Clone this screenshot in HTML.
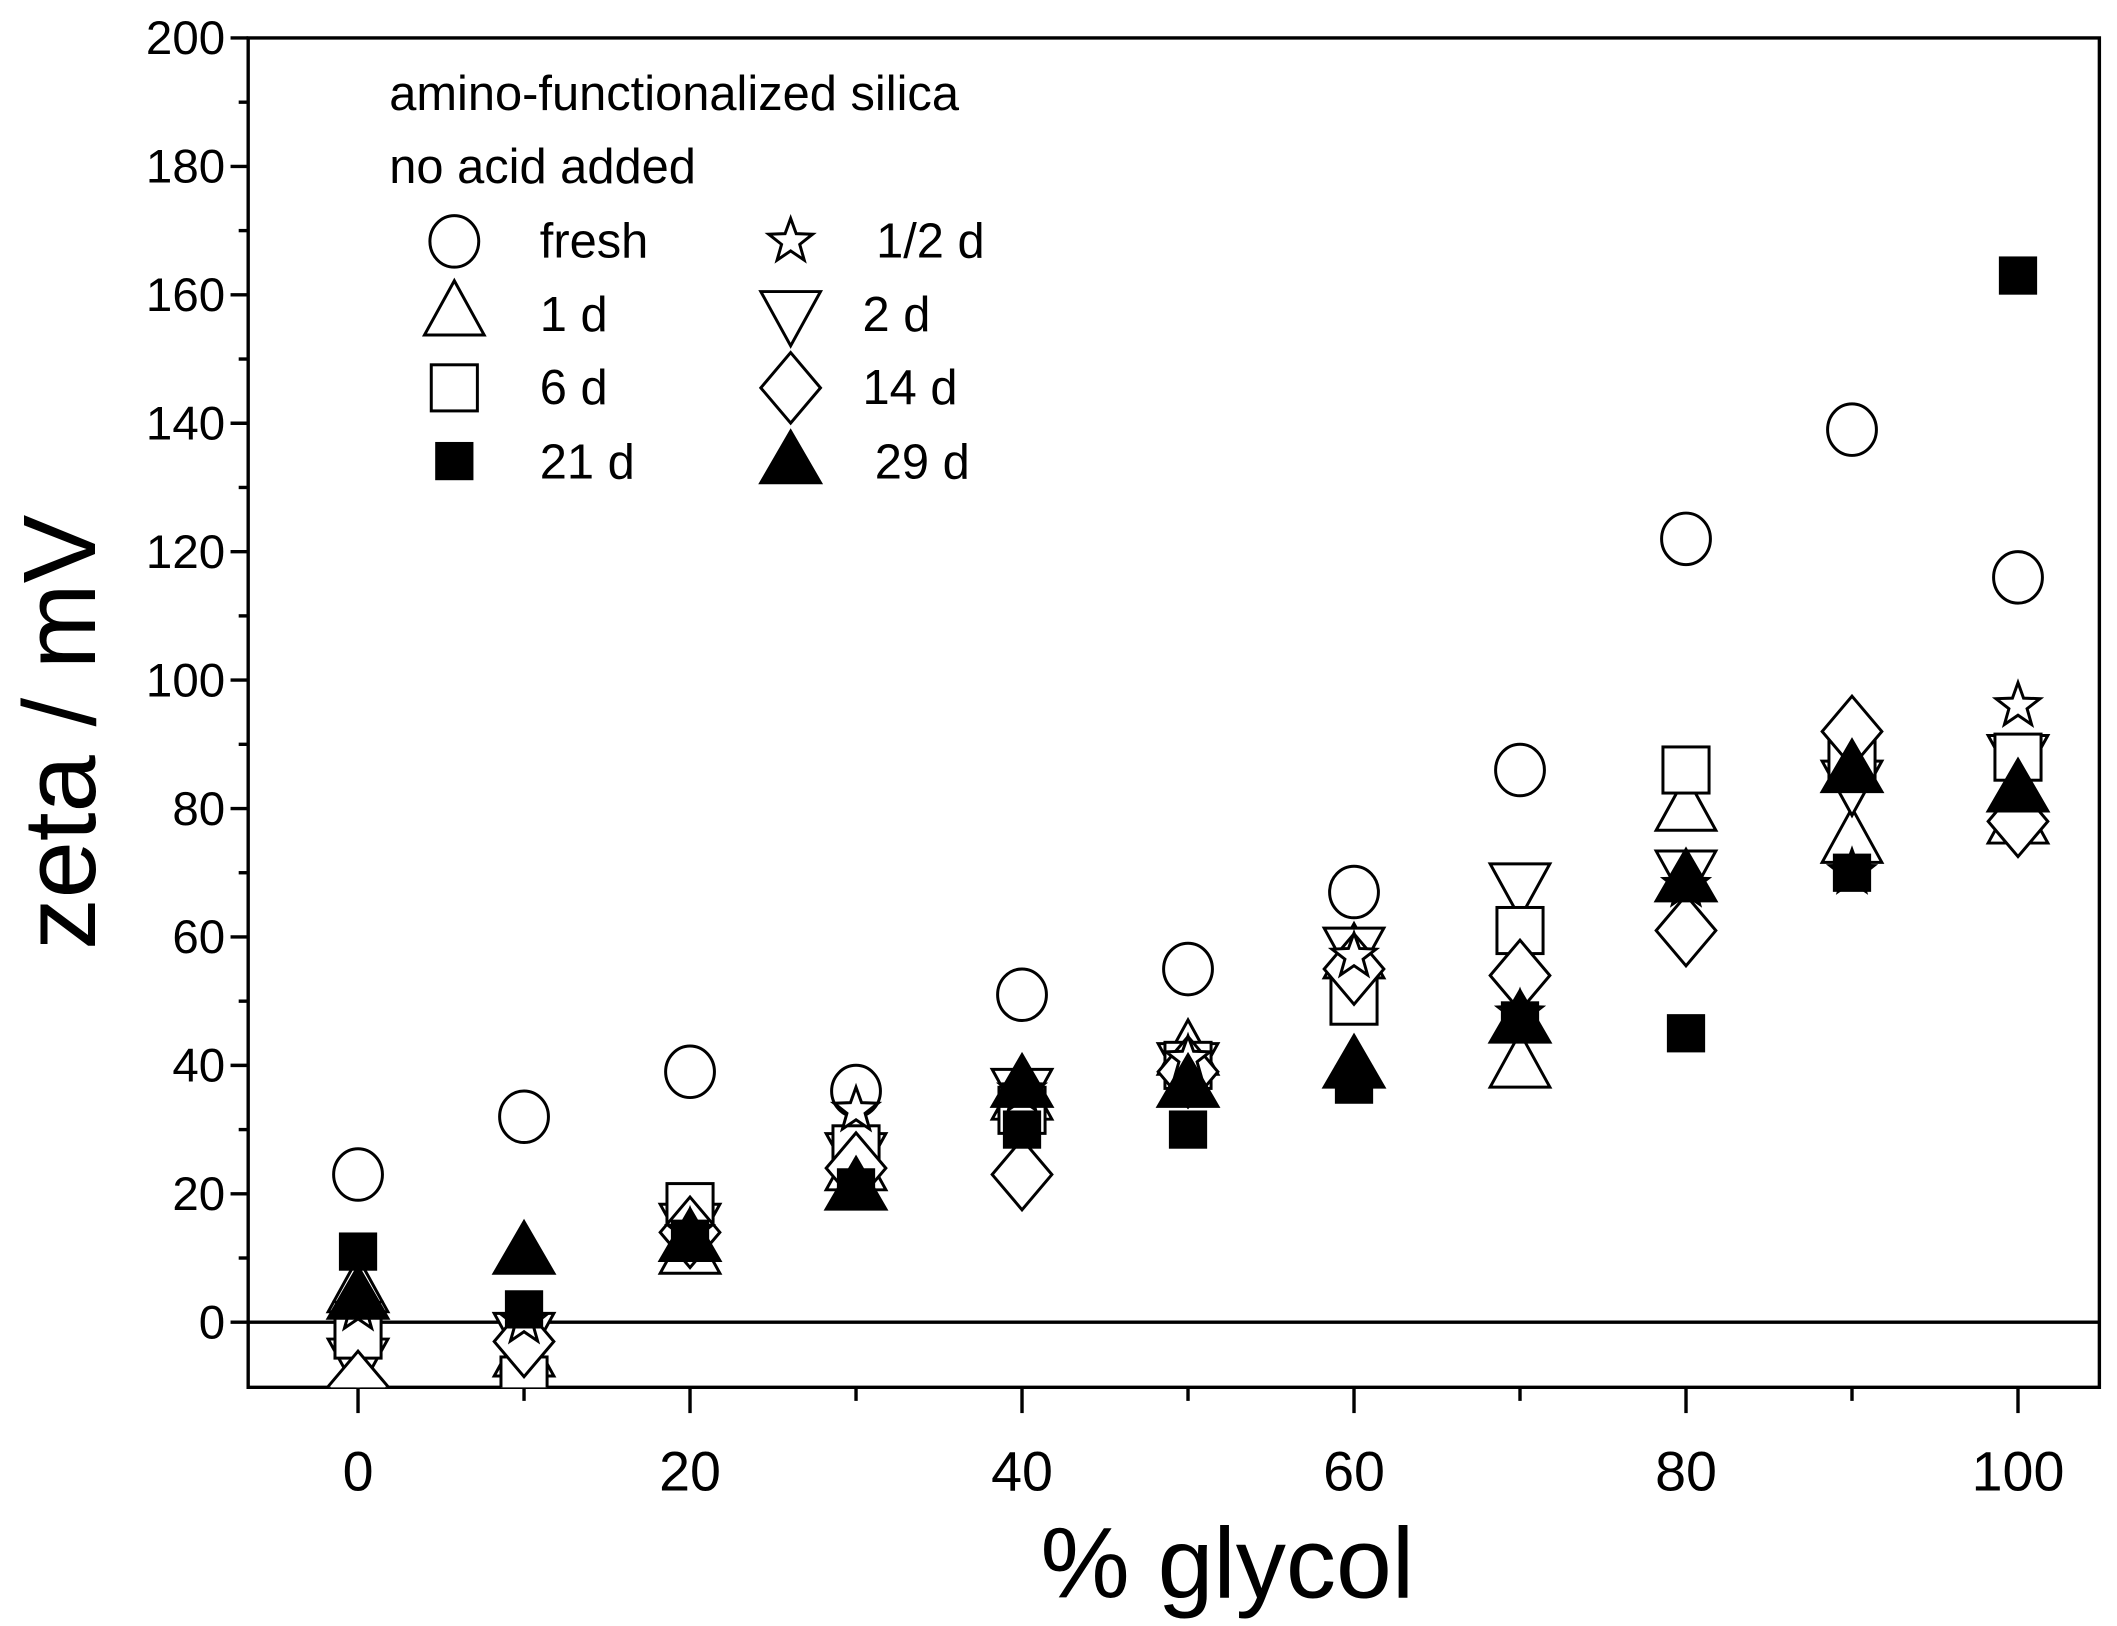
<!DOCTYPE html>
<html><head><meta charset="utf-8"><style>html,body{margin:0;padding:0;background:#fff}svg{display:block}</style></head>
<body>
<svg id="s" width="2117" height="1626" viewBox="0 0 1561 1199" preserveAspectRatio="none" xmlns="http://www.w3.org/2000/svg" font-family="Liberation Sans, sans-serif">
<defs><clipPath id="c"><rect x="183" y="28" width="1365" height="995"/></clipPath></defs>
<rect width="1561" height="1199" fill="#fff"/>
<g id="ax" stroke="#000" stroke-width="2.5" fill="none">
<path d="M183 28H1548V1023H183Z"/>
<line x1="183" y1="975" x2="1548" y2="975"/>
</g>
<g id="ticks" stroke="#000" stroke-width="2.5"></g>
<g id="lab" font-size="35" fill="#000" text-anchor="end"></g>
<g id="xl" font-size="41" fill="#000" text-anchor="middle"></g>
<text transform="translate(70,540) rotate(-90)" font-size="76" text-anchor="middle">zeta / mV</text>
<text x="905" y="1178" font-size="74" text-anchor="middle">% glycol</text>
<g font-size="36" fill="#000">
<text x="287" y="81">amino-functionalized silica</text>
<text x="287" y="135">no acid added</text>
<text x="398" y="190">fresh</text><text x="646" y="190">1/2 d</text>
<text x="398" y="244">1 d</text><text x="636" y="244">2 d</text>
<text x="398" y="298">6 d</text><text x="636" y="298">14 d</text>
<text x="398" y="353">21 d</text><text x="645" y="353">29 d</text>
</g>
<g id="leg"></g>
<g id="pts" clip-path="url(#c)"></g>
</svg>
<script>
const NS="http://www.w3.org/2000/svg";
function el(p,t,a){const e=document.createElementNS(NS,t);for(const k in a)e.setAttribute(k,a[k]);p.appendChild(e);return e;}
const tk=document.getElementById('ticks'),lab=document.getElementById('lab'),xl=document.getElementById('xl');
const Y=v=>975-v*4.735, X=v=>264+v*12.24;
for(let v=0;v<=200;v+=10){const y=Y(v);el(tk,'line',{x1:v%20?176:170,y1:y,x2:183,y2:y});
 if(v%20==0){const t=el(lab,'text',{x:166,y:y+12});t.textContent=v;}}
for(let v=0;v<=100;v+=10){const x=X(v);el(tk,'line',{x1:x,y1:1023,x2:x,y2:v%20?1033:1042});
 if(v%20==0){const t=el(xl,'text',{x:x,y:1099});t.textContent=v;}}
function mk(g,type,x,y){
 const st={stroke:'#000','stroke-width':2.2,fill:'#fff'};
 const f=Object.assign({},st,{fill:'#000'});
 switch(type){
 case 'c':el(g,'ellipse',Object.assign({cx:x,cy:y,rx:18,ry:19},st));break;
 case 's':el(g,'rect',Object.assign({x:x-17,y:y-17,width:34,height:34},st));break;
 case 'S':el(g,'rect',Object.assign({x:x-13,y:y-13,width:26,height:26},f));break;
 case 'u':el(g,'path',Object.assign({d:`M${x} ${y-24}L${x+22} ${y+16}L${x-22} ${y+16}Z`},st));break;
 case 'U':el(g,'path',Object.assign({d:`M${x} ${y-22}L${x+22} ${y+16}L${x-22} ${y+16}Z`},f));break;
 case 'd':el(g,'path',Object.assign({d:`M${x} ${y+24}L${x+22} ${y-16}L${x-22} ${y-16}Z`},st));break;
 case 'm':el(g,'path',Object.assign({d:`M${x} ${y-26}L${x+22} ${y}L${x} ${y+26}L${x-22} ${y}Z`},st));break;
 case 'r':{let p='';for(let i=0;i<10;i++){const r=i%2?7:17,a=-Math.PI/2+i*Math.PI/5;p+=(i?'L':'M')+(x+r*Math.cos(a)).toFixed(1)+' '+(y+r*Math.sin(a)).toFixed(1);}
   el(g,'path',Object.assign({d:p+'Z'},st));break;}
 }
}
const leg=document.getElementById('leg');
[['c',335,178],['r',583,178],['u',335,231],['d',583,231],['s',335,286],['m',583,286],['S',335,340],['U',583,340]].forEach(a=>mk(leg,a[0],a[1],a[2]));
const D={
c:[23,32,39,36,51,55,67,86,122,139,116],
r:[2,0,14,33,36,41,57,48,68,70,96],
u:[5,-5,11,24,35,42,57,40,80,75,78],
d:[-6,-2,15,26,36,40,58,68,70,84,88],
s:[-2,-9,18,27,33,40,50,61,86,88,88],
m:[-10,-3,14,24,23,39,55,54,61,92,78],
S:[11,2,13,21,30,30,37,47,45,70,163],
U:[4,11,13,21,37,37,40,47,69,86,83]};
const pts=document.getElementById('pts');
['c','u','d','s','m','r','S','U'].forEach(k=>D[k].forEach((v,i)=>mk(pts,k,X(i*10),Y(v))));
</script>
</body></html>
